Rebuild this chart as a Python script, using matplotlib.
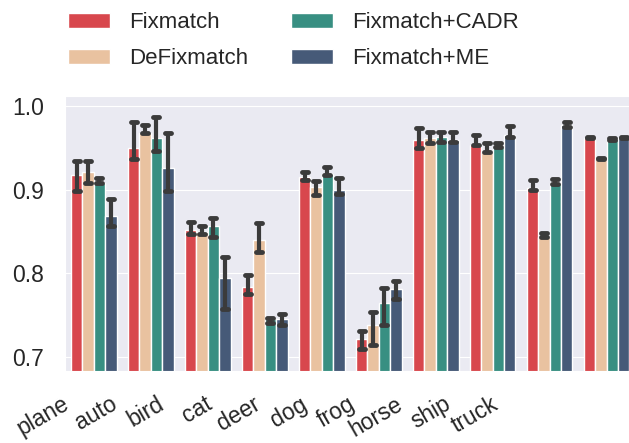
import numpy as np
import matplotlib
matplotlib.use("Agg")
import matplotlib.pyplot as plt
import seaborn as sns
from matplotlib.markers import MarkerStyle

sns.set_style("darkgrid")
plt.rcParams['font.family'] = ['Liberation Sans', 'DejaVu Sans']

classes = ['plane', 'auto', 'bird', 'cat', 'deer', 'dog', 'frog', 'horse', 'ship', 'truck']
methods = ['Fixmatch', 'DeFixmatch', 'Fixmatch+CADR', 'Fixmatch+ME']
colors = ['#d8474d', '#e9c2a0', '#388f82', '#465a78']

# mean accuracy per class
fixmatch = [0.917, 0.950, 0.852, 0.784, 0.915, 0.722, 0.959, 0.953, 0.902, 0.962]
defixmatch = [0.921, 0.967, 0.849, 0.840, 0.903, 0.739, 0.962, 0.945, 0.844, 0.937]
cadr = [0.908, 0.961, 0.856, 0.746, 0.919, 0.765, 0.963, 0.951, 0.908, 0.960]
me = [0.869, 0.926, 0.795, 0.746, 0.900, 0.781, 0.959, 0.965, 0.977, 0.962]

# error bar ends (low, high)
fixmatch_lo = [0.898, 0.936, 0.847, 0.775, 0.911, 0.710, 0.950, 0.953, 0.900, 0.961]
fixmatch_hi = [0.934, 0.981, 0.861, 0.798, 0.921, 0.731, 0.973, 0.965, 0.911, 0.963]
defixmatch_lo = [0.908, 0.967, 0.847, 0.825, 0.894, 0.715, 0.955, 0.945, 0.844, 0.936]
defixmatch_hi = [0.934, 0.977, 0.856, 0.860, 0.910, 0.754, 0.969, 0.956, 0.848, 0.938]
cadr_lo = [0.908, 0.946, 0.843, 0.741, 0.917, 0.739, 0.957, 0.951, 0.907, 0.959]
cadr_hi = [0.914, 0.986, 0.866, 0.747, 0.927, 0.783, 0.969, 0.956, 0.912, 0.961]
me_lo = [0.857, 0.898, 0.758, 0.739, 0.895, 0.770, 0.957, 0.963, 0.975, 0.961]
me_hi = [0.889, 0.967, 0.819, 0.752, 0.914, 0.791, 0.969, 0.976, 0.981, 0.963]

means = [fixmatch, defixmatch, cadr, me]
lows = [fixmatch_lo, defixmatch_lo, cadr_lo, me_lo]
highs = [fixmatch_hi, defixmatch_hi, cadr_hi, me_hi]

fig = plt.figure(figsize=(6.29, 4.43), dpi=100)
ax = fig.add_axes([0.1038, 0.1625, 0.906, 0.6208])

x = np.arange(len(classes))
w = 0.2
for k in range(4):
    pos = x - 0.3 + k * w
    m = np.array(means[k])
    ax.bar(pos, m, width=w, color=colors[k], edgecolor='white', linewidth=1,
           label=methods[k], zorder=2)
    err = [m - np.array(lows[k]), np.array(highs[k]) - m]
    _, caps, _ = ax.errorbar(pos, m, yerr=err, fmt='none', ecolor='#3b3b3b',
                             elinewidth=3, capsize=2, capthick=3.5, zorder=3)
    for c in caps:
        c.set_marker(MarkerStyle('_', capstyle='round'))

ax.set_xlim(-0.5, 9.5)
ax.set_ylim(0.6837, 1.0115)
ax.set_yticks([0.7, 0.8, 0.9, 1.0])
ax.grid(axis='x', visible=False)
ax.tick_params(axis='both', labelsize=16.5, pad=12, colors='#262626')

ax.set_xticks(np.arange(len(classes)) * 0.836 - 0.36)
ax.set_xticklabels(classes, rotation=30, ha='right')

fig.legend(loc='upper left', bbox_to_anchor=(0.088, 1.0), ncol=2, frameon=False,
           fontsize=16, handlelength=1.9, handletextpad=0.86, columnspacing=1.93,
           labelspacing=0.68, borderpad=0.05)

fig.savefig('out.png', dpi=100)
